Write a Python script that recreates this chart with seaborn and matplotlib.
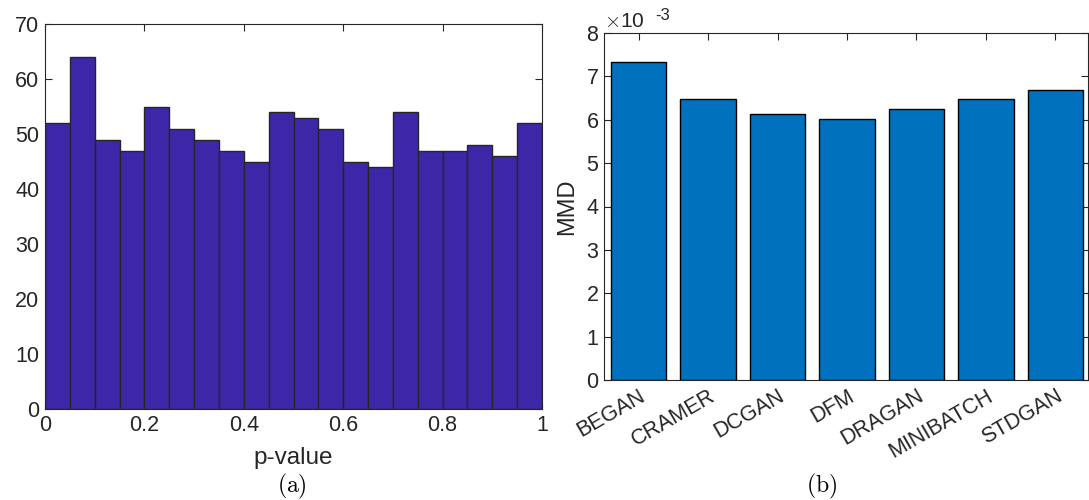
import numpy as np
import pandas as pd
import matplotlib
matplotlib.use("Agg")
import matplotlib.pyplot as plt
import matplotlib.transforms as mtransforms
import seaborn as sns
from matplotlib.ticker import FuncFormatter, MultipleLocator

# ---- data ----
hist_counts = [52, 64, 49, 47, 55, 51, 49, 47, 45, 54, 53, 51, 45, 44, 54, 47, 47, 48, 46, 52]
n_bins = 20
models = ["BEGAN", "CRAMER", "DCGAN", "DFM", "DRAGAN", "MINIBATCH", "STDGAN"]
mmd_values = [7.33e-3, 6.47e-3, 6.14e-3, 6.02e-3, 6.25e-3, 6.48e-3, 6.68e-3]

sns.set_theme(style="white")
plt.rcParams['font.family'] = ['Liberation Sans', 'DejaVu Sans']
plt.rcParams['mathtext.fontset'] = 'cm'

txt = '#262626'
fig = plt.figure(figsize=(10.89, 5.0), dpi=100)
ax1 = fig.add_axes([45/1089, (500-409)/500, (542-45)/1089, (409-24)/500])
ax2 = fig.add_axes([604/1089, (500-380)/500, (1088-604)/1089, (380-33)/500])

# ---- left: histogram ----
edges = np.linspace(0, 1, n_bins + 1)
centers = (edges[:-1] + edges[1:]) / 2
df_h = pd.DataFrame({"p": centers, "count": hist_counts})
sns.histplot(data=df_h, x="p", weights="count", bins=n_bins, binrange=(0, 1),
             color="#3E26A8", edgecolor="#262626", linewidth=1.0, alpha=1.0, ax=ax1)
ax1.set_xlim(0, 1)
ax1.set_ylim(0, 70)
ax1.xaxis.set_major_locator(MultipleLocator(0.2))
ax1.yaxis.set_major_locator(MultipleLocator(10))
ax1.xaxis.set_major_formatter(FuncFormatter(lambda v, p: "0" if abs(v) < 1e-9 else ("1" if abs(v-1) < 1e-9 else f"{v:.1f}")))
ax1.set_xlabel("p-value", fontsize=17.5, color=txt, labelpad=8)
ax1.set_ylabel("")

# ---- right: bar chart ----
df_b = pd.DataFrame({"model": models, "mmd": mmd_values})
sns.barplot(data=df_b, x="model", y="mmd", color="#0072BD", saturation=1,
            edgecolor="black", linewidth=1.0, width=0.8, ax=ax2)
ax2.set_xlim(-0.5, 6.47)
ax2.set_ylim(0, 8e-3)
ax2.yaxis.set_major_locator(MultipleLocator(1e-3))
ax2.yaxis.set_major_formatter(FuncFormatter(lambda v, p: f"{v*1e3:.0f}"))
ax2.set_xlabel("")
ax2.set_ylabel("MMD", fontsize=17, color=txt, labelpad=6)
ax2.set_xticks(range(len(models)))
ax2.set_xticklabels(models, rotation=30, ha="right", rotation_mode="anchor")
shift = mtransforms.ScaledTranslation(8/100, 0, fig.dpi_scale_trans)
for lab in ax2.get_xticklabels():
    lab.set_transform(lab.get_transform() + shift)
ax2.text(0.0, 1.005, r"$\times$10", transform=ax2.transAxes, fontsize=15, color=txt,
         ha="left", va="bottom")
ax2.text(0.105, 1.03, "-3", transform=ax2.transAxes, fontsize=12, color=txt,
         ha="left", va="bottom")

for ax in (ax1, ax2):
    ax.tick_params(axis="both", which="both", direction="in", top=True, right=True,
                   bottom=True, left=True, length=5, width=0.8, colors="#262626",
                   labelsize=15.5, labelcolor=txt, pad=4)
    for s in ax.spines.values():
        s.set_color("#262626")
        s.set_linewidth(0.8)
        s.set_visible(True)

fig.text(292/1089, 1 - 486/500, r"$(\mathrm{a})$", fontsize=17, ha="center", va="center", color="black")
fig.text(822/1089, 1 - 486/500, r"$(\mathrm{b})$", fontsize=17, ha="center", va="center", color="black")

fig.savefig("out.png", dpi=100)
